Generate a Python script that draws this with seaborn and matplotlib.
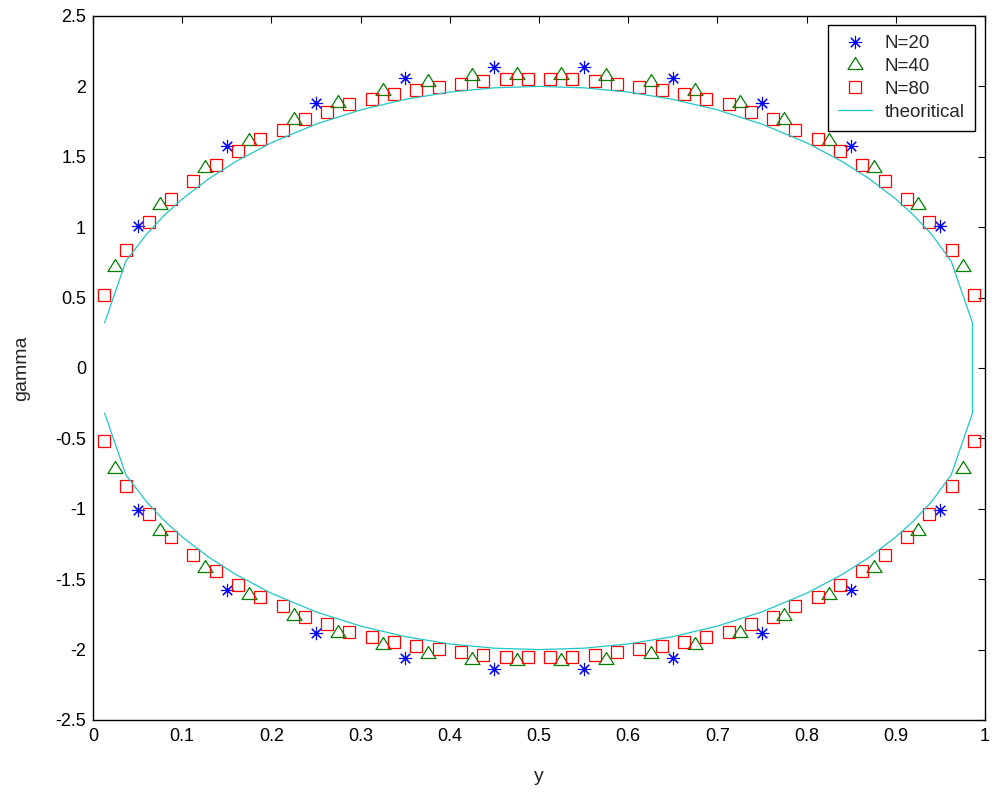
import matplotlib.pyplot as plt
import numpy as np
import pandas as pd
import seaborn as sns

# spanwise stations and circulation values
y_n20 = [0.05, 0.15, 0.25, 0.35, 0.45, 0.55, 0.65, 0.75, 0.85, 0.95]
gamma_n20_top = [1.01, 1.58, 1.88, 2.06, 2.135, 2.135, 2.06, 1.88, 1.58, 1.01]
gamma_n20_bot = [-1.01, -1.58, -1.88, -2.06, -2.135, -2.135, -2.06, -1.88, -1.58, -1.01]

y_n40 = [0.025, 0.075, 0.125, 0.175, 0.225, 0.275, 0.325, 0.375, 0.425, 0.475,
         0.525, 0.575, 0.625, 0.675, 0.725, 0.775, 0.825, 0.875, 0.925, 0.975]
gamma_n40_top = [0.72, 1.16, 1.42, 1.613, 1.763, 1.88, 1.966, 2.03, 2.072, 2.083,
                 2.083, 2.072, 2.03, 1.966, 1.88, 1.763, 1.613, 1.42, 1.16, 0.72]
gamma_n40_bot = [-0.72, -1.16, -1.42, -1.613, -1.763, -1.88, -1.966, -2.03, -2.072, -2.083,
                 -2.083, -2.072, -2.03, -1.966, -1.88, -1.763, -1.613, -1.42, -1.16, -0.72]

y_n80 = [0.0125, 0.0375, 0.0625, 0.0875, 0.1125, 0.1375, 0.1625, 0.1875, 0.2125, 0.2375,
         0.2625, 0.2875, 0.3125, 0.3375, 0.3625, 0.3875, 0.4125, 0.4375, 0.4625, 0.4875,
         0.5125, 0.5375, 0.5625, 0.5875, 0.6125, 0.6375, 0.6625, 0.6875, 0.7125, 0.7375,
         0.7625, 0.7875, 0.8125, 0.8375, 0.8625, 0.8875, 0.9125, 0.9375, 0.9625, 0.9875]
gamma_n80_top = [0.515, 0.836, 1.038, 1.2, 1.327, 1.443, 1.54, 1.625, 1.69, 1.765,
                 1.817, 1.872, 1.912, 1.945, 1.977, 1.997, 2.02, 2.04, 2.05, 2.05,
                 2.05, 2.05, 2.04, 2.02, 1.997, 1.977, 1.945, 1.912, 1.872, 1.817,
                 1.765, 1.69, 1.625, 1.54, 1.443, 1.327, 1.2, 1.038, 0.836, 0.515]
gamma_n80_bot = [-0.515, -0.836, -1.038, -1.2, -1.327, -1.443, -1.54, -1.625, -1.69, -1.765,
                 -1.817, -1.872, -1.912, -1.945, -1.977, -1.997, -2.02, -2.04, -2.05, -2.05,
                 -2.05, -2.05, -2.04, -2.02, -1.997, -1.977, -1.945, -1.912, -1.872, -1.817,
                 -1.765, -1.69, -1.625, -1.54, -1.443, -1.327, -1.2, -1.038, -0.836, -0.515]

# theoretical curve, drawn as one path (upper left->right, down, lower right->left)
y_theory = [0.013, 0.037, 0.06, 0.08, 0.1, 0.13, 0.16, 0.2, 0.25, 0.3, 0.35, 0.4, 0.45, 0.5,
            0.55, 0.6, 0.65, 0.7, 0.75, 0.8, 0.84, 0.87, 0.9, 0.92, 0.94, 0.962, 0.986,
            0.986, 0.962, 0.94, 0.92, 0.9, 0.87, 0.84, 0.8, 0.75, 0.7, 0.65, 0.6, 0.55,
            0.5, 0.45, 0.4, 0.35, 0.3, 0.25, 0.2, 0.16, 0.13, 0.1, 0.08, 0.06, 0.037, 0.013]
gamma_theory = [0.32, 0.76, 0.95, 1.085, 1.2, 1.345, 1.466, 1.6, 1.732, 1.833, 1.908, 1.96, 1.99, 2.0,
                1.99, 1.96, 1.908, 1.833, 1.732, 1.6, 1.466, 1.345, 1.2, 1.085, 0.95, 0.76, 0.32,
                -0.32, -0.76, -0.95, -1.085, -1.2, -1.345, -1.466, -1.6, -1.732, -1.833, -1.908, -1.96, -1.99,
                -2.0, -1.99, -1.96, -1.908, -1.833, -1.732, -1.6, -1.466, -1.345, -1.2, -1.085, -0.95, -0.76, -0.32]

xtick_vals = [0, 0.1, 0.2, 0.3, 0.4, 0.5, 0.6, 0.7, 0.8, 0.9, 1]
xtick_labels = ['0', '0.1', '0.2', '0.3', '0.4', '0.5', '0.6', '0.7', '0.8', '0.9', '1']
ytick_vals = [-2.5, -2, -1.5, -1, -0.5, 0, 0.5, 1, 1.5, 2, 2.5]
ytick_labels = ['-2.5', '-2', '-1.5', '-1', '-0.5', '0', '0.5', '1', '1.5', '2', '2.5']

# %%
sns.set_style('white')
plt.rcParams['font.family'] = ['Liberation Sans', 'DejaVu Sans']

df20 = pd.DataFrame({'y': y_n20 + y_n20, 'gamma': gamma_n20_top + gamma_n20_bot})
df40 = pd.DataFrame({'y': y_n40 + y_n40, 'gamma': gamma_n40_top + gamma_n40_bot})
df80 = pd.DataFrame({'y': y_n80 + y_n80, 'gamma': gamma_n80_top + gamma_n80_bot})
dft = pd.DataFrame({'y': y_theory, 'gamma': gamma_theory})

fig = plt.figure(figsize=(9.92, 7.92), dpi=100)
ax = fig.add_axes([93 / 992, 72 / 792, 892 / 992, 704 / 792])

# triangle with its centroid on the data point (matlab style)
tri = [(0, 8), (-7.5, -4), (7.5, -4), (0, 8)]

sns.lineplot(data=df20, x='y', y='gamma', ax=ax, estimator=None, sort=False,
             linestyle='none', marker=(8, 2, 0), markersize=9.5,
             markeredgecolor='blue', markeredgewidth=0.8, color='blue', label='N=20')
sns.lineplot(data=df40, x='y', y='gamma', ax=ax, estimator=None, sort=False,
             linestyle='none', marker=tri, markersize=11.5, markerfacecolor='none',
             markeredgecolor='green', markeredgewidth=0.9, color='green', label='N=40')
sns.lineplot(data=df80, x='y', y='gamma', ax=ax, estimator=None, sort=False,
             linestyle='none', marker='s', markersize=8.6, markerfacecolor='none',
             markeredgecolor='red', markeredgewidth=0.9, color='red', label='N=80')
sns.lineplot(data=dft, x='y', y='gamma', ax=ax, estimator=None, sort=False,
             color='#1fc6c6', linewidth=0.9, label='theoritical')

ax.set_xlim(0, 1)
ax.set_ylim(-2.5, 2.5)
ax.set_xticks(xtick_vals)
ax.set_xticklabels(xtick_labels)
ax.set_yticks(ytick_vals)
ax.set_yticklabels(ytick_labels)
ax.tick_params(direction='in', top=True, right=True, length=5, width=0.8,
               labelsize=13, colors='black')
ax.tick_params(axis='x', pad=6)
ax.tick_params(axis='y', pad=5)
for sp in ax.spines.values():
    sp.set_visible(True)
    sp.set_color('black')
    sp.set_linewidth(1)

ax.set_xlabel('y', fontsize=14, labelpad=16)
ax.set_ylabel('gamma', fontsize=14, labelpad=18)

leg = ax.legend(loc='upper right', bbox_to_anchor=(975 / 992, 1 - 25 / 792),
                bbox_transform=fig.transFigure, borderaxespad=0, fancybox=False,
                framealpha=1, edgecolor='black', fontsize=13.5, handlelength=1.8,
                handletextpad=0.7, labelspacing=0.3, borderpad=0.55)
leg.get_frame().set_linewidth(1)

fig.savefig('out.png', dpi=100)
